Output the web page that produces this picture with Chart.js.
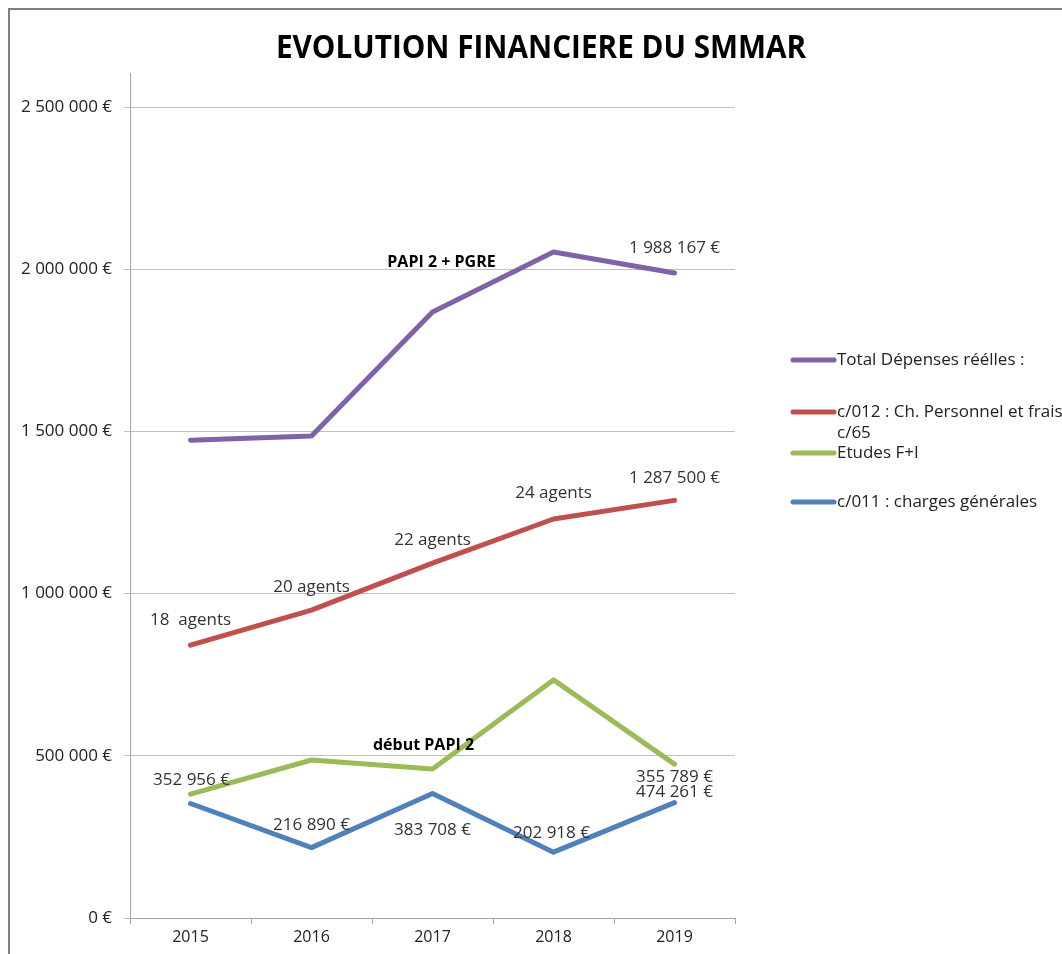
<!DOCTYPE html>
<html lang="fr">
<head>
<meta charset="utf-8">
<title>Evolution financière du SMMAR</title>
<script src="https://cdn.jsdelivr.net/npm/chart.js@4"></script>
<style>
    html, body { margin: 0; padding: 0; background: #fff; }
    #wrap { position: relative; width: 1062px; height: 954px; }
</style>
</head>
<body>
<div id="wrap"><canvas id="smmarChart" width="1062" height="954"></canvas></div>
<script>
const years = ['2015', '2016', '2017', '2018', '2019'];
const tickValues = [0, 500000, 1000000, 1500000, 2000000, 2500000];

const totalDepenses = [1473000, 1486000, 1868000, 2053000, 1988167];
const chargesPersonnel = [841000, 949000, 1094000, 1230000, 1287500];
const etudes = [382000, 487000, 459000, 734000, 474261];
const chargesGenerales = [352956, 216890, 383708, 202918, 355789];

const seriesNames = [
    'Total Dépenses réélles :',
    'c/012 : Ch. Personnel et frais c/65',
    'Etudes F+I',
    'c/011 : charges générales'
];

// textes affichés près des points (null = rien)
const totalTexts = [null, null, 'PAPI 2 + PGRE', null, '1 988 167 €'];
const personnelTexts = ['18  agents', '20 agents', '22 agents', '24 agents', '1 287 500 €'];
const etudesTexts = [null, null, 'début PAPI 2', null, '474 261 €'];
const generalesTexts = ['352 956 €', '216 890 €', '383 708 €', '202 918 €', '355 789 €'];

const titleText = 'EVOLUTION FINANCIERE DU SMMAR';

const FONT = '"Open Sans", Lato, sans-serif';

function formatEuro(value) {
    return String(value).replace(/\B(?=(\d{3})+(?!\d))/g, ' ') + ' €';
}

// decalages des etiquettes par rapport au point [dx, dy]
const labelOffsets = [
    [null, null, [9, -50], null, [0, -25]],
    [[0, -25], [0, -23], [0, -23], [0, -26], [0, -22]],
    [null, null, [-9, -24], null, [0, 28]],
    [[1, -23], [0, -22], [0, 37], [-2, -19], [0, -25]]
];
const boldLabels = ['PAPI 2 + PGRE', 'début PAPI 2'];

const pointLabels = {
    id: 'pointLabels',
    afterDatasetsDraw(chart) {
        const ctx = chart.ctx;
        const texts = [totalTexts, personnelTexts, etudesTexts, generalesTexts];
        ctx.save();
        ctx.textAlign = 'center';
        ctx.textBaseline = 'middle';
        texts.forEach((list, d) => {
            const meta = chart.getDatasetMeta(d);
            list.forEach((txt, i) => {
                if (!txt) return;
                const off = labelOffsets[d][i];
                const pt = meta.data[i];
                const bold = boldLabels.includes(txt);
                ctx.font = bold ? 'bold 16px ' + FONT : '17px ' + FONT;
                ctx.fillStyle = bold ? '#000' : '#333';
                ctx.fillText(txt, pt.x + off[0], pt.y + off[1]);
            });
        });
        ctx.restore();
    }
};

const frameTitleLegend = {
    id: 'frameTitleLegend',
    beforeDraw(chart) {
        const ctx = chart.ctx;
        ctx.save();
        ctx.strokeStyle = '#7f7f7f';
        ctx.lineWidth = 2;
        ctx.beginPath();
        ctx.moveTo(9, chart.height);
        ctx.lineTo(9, 9);
        ctx.lineTo(chart.width, 9);
        ctx.stroke();
        ctx.restore();
    },
    afterDraw(chart) {
        const ctx = chart.ctx;
        ctx.save();
        ctx.fillStyle = '#000';
        ctx.font = 'bold 33px ' + FONT;
        ctx.textAlign = 'center';
        ctx.textBaseline = 'middle';
        // titre un peu condense comme dans Excel
        ctx.translate(541, 49);
        ctx.scale(0.9, 1);
        ctx.fillText(titleText, 0, 0);
        ctx.restore();

        // legende
        ctx.save();
        const rows = [360, 412, 453, 502];
        ctx.font = '17px ' + FONT;
        ctx.textAlign = 'left';
        ctx.textBaseline = 'middle';
        chart.data.datasets.forEach((ds, i) => {
            const y = rows[i];
            ctx.strokeStyle = ds.borderColor;
            ctx.lineWidth = 5;
            ctx.lineCap = 'round';
            ctx.beginPath();
            ctx.moveTo(793, y);
            ctx.lineTo(834, y);
            ctx.stroke();
            ctx.fillStyle = '#222';
            const words = ds.label.split(' ');
            let line = '';
            let ly = y;
            words.forEach((w) => {
                const test = line ? line + ' ' + w : w;
                if (ctx.measureText(test).width > 240 && line) {
                    ctx.fillText(line, 837, ly);
                    line = w;
                    ly += 21;
                } else {
                    line = test;
                }
            });
            ctx.fillText(line, 837, ly);
        });
        ctx.restore();
    }
};

function makeDataset(label, data, color) {
    return {
        label: label,
        data: data,
        borderColor: color,
        backgroundColor: color,
        borderWidth: 5,
        pointRadius: 0,
        borderCapStyle: 'round',
        borderJoinStyle: 'round',
        tension: 0
    };
}

new Chart(document.getElementById('smmarChart'), {
    type: 'line',
    data: {
        labels: years,
        datasets: [
            makeDataset(seriesNames[0], totalDepenses, '#7f62a8'),
            makeDataset(seriesNames[1], chargesPersonnel, '#c0504d'),
            makeDataset(seriesNames[2], etudes, '#9bbb59'),
            makeDataset(seriesNames[3], chargesGenerales, '#4f81bd')
        ]
    },
    options: {
        responsive: false,
        animation: false,
        layout: { padding: { left: 0, top: 73, right: 327, bottom: 0 } },
        plugins: {
            legend: { display: false },
            title: { display: false },
            tooltip: { enabled: false }
        },
        scales: {
            x: {
                offset: true,
                grid: { offset: true, drawOnChartArea: false, color: '#a6a6a6', tickLength: 6 },
                border: { color: '#a6a6a6', width: 1 },
                ticks: { color: '#222', font: { family: FONT, size: 16 }, padding: 4 },
                afterFit(scale) {
                    scale.height = 36;
                    scale.paddingLeft = 0;
                    scale.paddingRight = 0;
                }
            },
            y: {
                min: 0,
                max: 2605000,
                grid: { color: '#bfbfbf', tickLength: 6 },
                border: { color: '#a6a6a6', width: 1 },
                ticks: {
                    padding: 12,
                    color: '#222',
                    font: { family: FONT, size: 17 },
                    callback: (v) => formatEuro(v)
                },
                afterBuildTicks(scale) {
                    scale.ticks = tickValues.map((v) => ({ value: v }));
                },
                afterFit(scale) {
                    scale.width = 130;
                    scale.paddingTop = 0;
                    scale.paddingBottom = 0;
                }
            }
        }
    },
    plugins: [frameTitleLegend, pointLabels]
});
</script>
</body>
</html>
